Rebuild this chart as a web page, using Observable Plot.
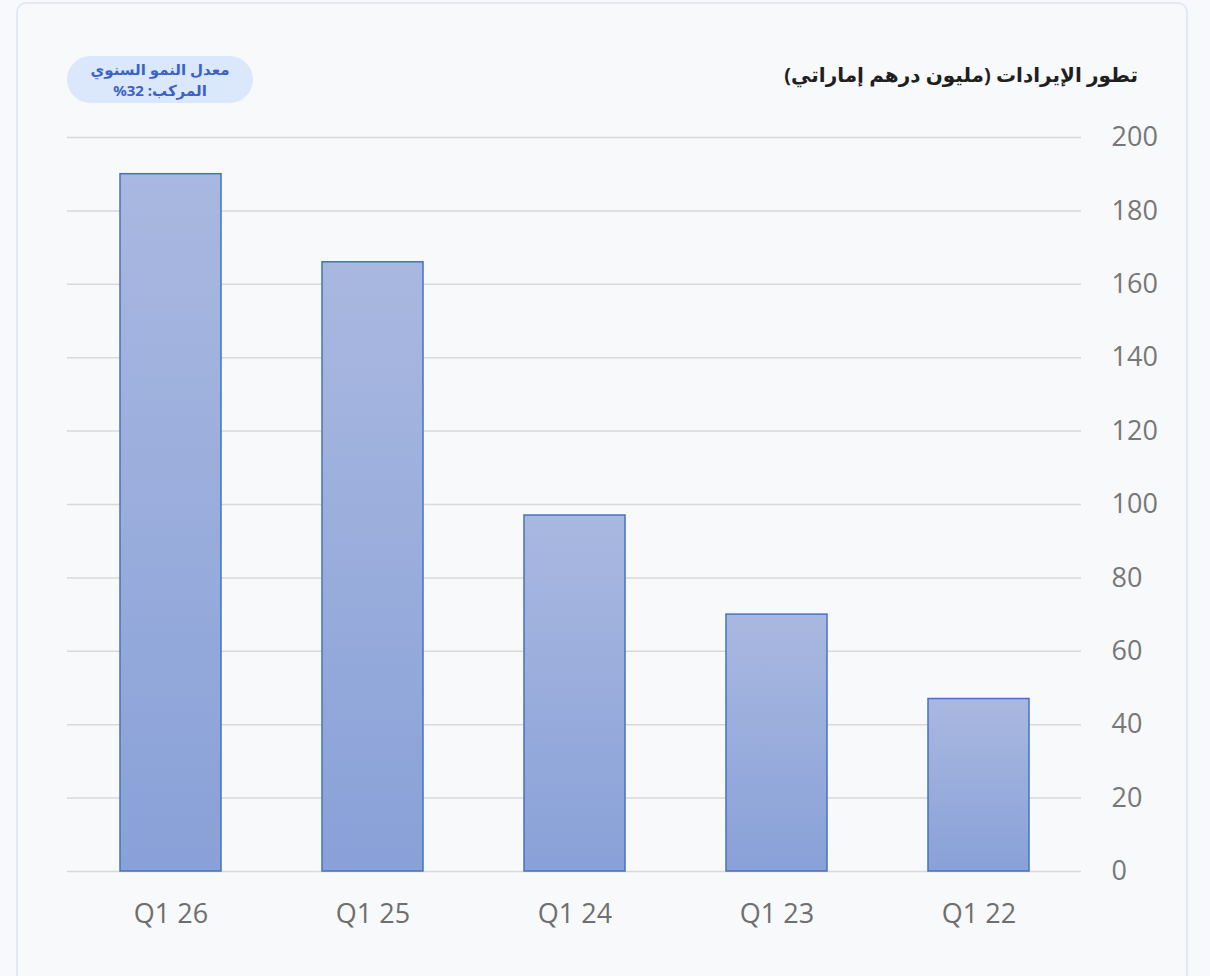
<!DOCTYPE html>
<html lang="ar">
<head>
<meta charset="utf-8">
<script src="https://cdn.jsdelivr.net/npm/d3@7"></script>
<script src="https://cdn.jsdelivr.net/npm/@observablehq/plot@0.6"></script>
<style>
  html, body { margin: 0; padding: 0; width: 1210px; height: 976px; overflow: hidden; background: #f7f9fc; }
  #card { position: absolute; left: 16px; top: 2px; width: 1172px; height: 1000px; border: 2px solid #e3e9f4; border-radius: 10px; background: #f8f9fb; box-sizing: border-box; }
  #title { position: absolute; right: 72px; top: 61px; font-family: "Noto Sans", "DejaVu Sans", sans-serif; font-weight: bold; font-size: 20px; color: #1f1f1f; direction: rtl; white-space: nowrap; }
  #badge { position: absolute; left: 67px; top: 56px; width: 186px; height: 47px; border-radius: 24px; background: #dbe7fb; color: #3a63c8; font-family: "Noto Sans", "DejaVu Sans", sans-serif; font-weight: bold; font-size: 15px; line-height: 21px; text-align: center; direction: rtl; display: flex; flex-direction: column; justify-content: center; }
  #chart { position: absolute; left: 0; top: 110px; }
</style>
</head>
<body>
<div id="card"></div>
<div id="title">تطور الإيرادات (مليون درهم إماراتي)</div>
<div id="badge"><div>معدل النمو السنوي</div><div>المركب: 32%</div></div>
<div id="chart"></div>
<script>
const quarters = ["Q1 26", "Q1 25", "Q1 24", "Q1 23", "Q1 22"];
const revenue = [190, 166, 97, 70, 47];
const yTicks = [0, 20, 40, 60, 80, 100, 120, 140, 160, 180, 200];

const data = quarters.map((q, i) => ({quarter: q, value: revenue[i]}));

const plot = Plot.plot({
  width: 1210,
  height: 850,
  marginLeft: 67,
  marginRight: 129,
  marginTop: 27,
  marginBottom: 89,
  style: {background: "transparent", fontFamily: "'Open Sans', sans-serif", fontSize: "27px", color: "#777"},
  x: {domain: quarters, paddingInner: 0.5, paddingOuter: 0.25, label: null},
  y: {domain: [0, 200], label: null},
  marks: [
    Plot.ruleY(yTicks, {stroke: "#d9d9d9", strokeWidth: 1.5}),
    Plot.barY(data, {x: "quarter", y: "value", fill: "url(#barGrad)", stroke: "#4472c4", strokeWidth: 1.5}),
    Plot.axisX({tickSize: 0, tickPadding: 32, fontSize: 27, color: "#6f6f6f"}),
    Plot.axisY({anchor: "right", ticks: yTicks, tickSize: 0, tickPadding: 30, fontSize: 27, color: "#777", textAnchor: "start"})
  ]
});

const svg = d3.select(plot);
const defs = svg.insert("defs", ":first-child");
const g = defs.append("linearGradient").attr("id", "barGrad").attr("x1", 0).attr("y1", 0).attr("x2", 0).attr("y2", 1);
g.append("stop").attr("offset", "0%").attr("stop-color", "#a9b8e0");
g.append("stop").attr("offset", "100%").attr("stop-color", "#89a1d8");

document.getElementById("chart").appendChild(plot);
</script>
</body>
</html>
